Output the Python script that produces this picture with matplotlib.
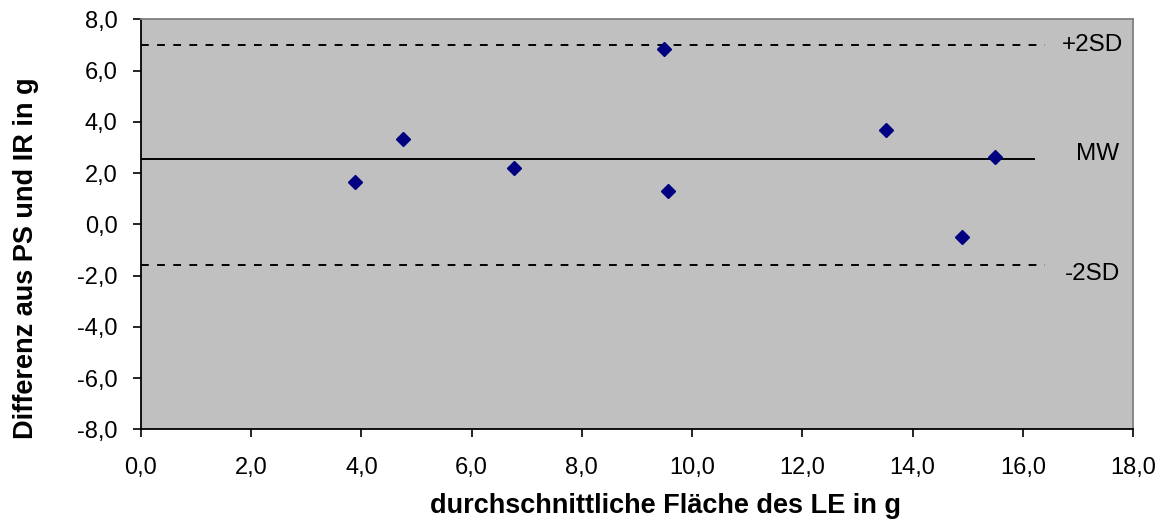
import matplotlib.pyplot as plt
import numpy as np
from matplotlib.ticker import FuncFormatter, MultipleLocator

plt.rcParams['font.family'] = ['Liberation Sans', 'DejaVu Sans']

# Mittelwert aus LE (x) und Differenz PS - IR (y)
mean_area = [3.88, 4.75, 6.76, 9.49, 9.56, 13.52, 14.89, 15.49]
difference = [1.64, 3.32, 2.21, 6.85, 1.30, 3.68, -0.51, 2.62]

mw = 2.54
plus_2sd = 6.98
minus_2sd = -1.58
line_end = 16.2
dash_end = 16.4

fig = plt.figure(figsize=(11.72, 5.23), dpi=100)
ax = fig.add_axes([0.1203, 0.1792, 0.8464, 0.7839])
ax.set_facecolor('#C0C0C0')

ax.plot(mean_area, difference, linestyle='none', marker='D', markersize=7.5,
        color='#000080', zorder=3)
ax.plot([0, line_end], [mw, mw], color='black', lw=1.4)
ax.plot([0, dash_end], [plus_2sd, plus_2sd], color='black', lw=1.4, dashes=(4, 4.3))
ax.plot([0, dash_end], [minus_2sd, minus_2sd], color='black', lw=1.4, dashes=(4, 4.3))

ax.text(17.27, plus_2sd, '+2SD', fontsize=17.5, ha='center', va='center')
ax.text(17.35, 2.75, 'MW', fontsize=17.5, ha='center', va='center')
ax.text(17.27, -1.94, '-2SD', fontsize=17.5, ha='center', va='center')

ax.set_xlim(0, 18)
ax.set_ylim(-8, 8)
ax.xaxis.set_major_locator(MultipleLocator(2))
ax.yaxis.set_major_locator(MultipleLocator(2))
fmt = FuncFormatter(lambda v, p: f'{v:.1f}'.replace('.', ','))
ax.xaxis.set_major_formatter(fmt)
ax.yaxis.set_major_formatter(fmt)
ax.tick_params(direction='out', length=5.8, width=1.2, labelsize=17)
ax.tick_params(axis='x', pad=14)
ax.tick_params(axis='y', pad=11)

for side in ['left', 'bottom']:
    ax.spines[side].set_color('black')
    ax.spines[side].set_linewidth(1.3)
for side in ['top', 'right']:
    ax.spines[side].set_color('#808080')
    ax.spines[side].set_linewidth(1.3)

ax.set_xlabel('durchschnittliche Fläche des LE in g', fontsize=19.5, fontweight='bold')
ax.set_ylabel('Differenz aus PS und IR in g', fontsize=19.5, fontweight='bold')
ax.xaxis.set_label_coords(0.529, -0.155)
ax.yaxis.set_label_coords(-0.103, 0.418)

fig.savefig('out.png', dpi=100)
